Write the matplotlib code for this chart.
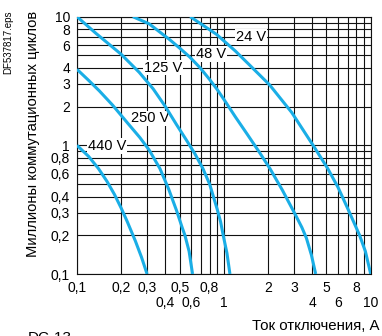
import numpy as np
import matplotlib
matplotlib.use("Agg")
import matplotlib.pyplot as plt

plt.rcParams['font.family'] = ['Liberation Sans', 'DejaVu Sans']

# curves: breaking current (A) vs millions of cycles
i_24 = [0.59, 0.89, 1.2, 1.5, 2.05, 2.9, 4.1, 5.1, 6.0, 7.0, 8.4, 9.2, 10]
n_24 = [10, 7.3, 5.4, 4.2, 2.95, 1.8, 0.98, 0.66, 0.47, 0.32, 0.2, 0.15, 0.1]

i_48 = [0.24, 0.31, 0.43, 0.5, 0.587, 0.69, 0.8, 0.9, 1.0, 1.2, 1.45, 1.75, 2.06,
        2.5, 3.04, 3.4, 3.65, 3.95, 4.22]
n_48 = [10, 8.8, 6.6, 5.7, 4.85, 4.0, 3.25, 2.72, 2.28, 1.66, 1.21, 0.88, 0.66,
        0.45, 0.295, 0.23, 0.19, 0.14, 0.1]

i_125 = [0.1, 0.135, 0.2, 0.265, 0.33, 0.4, 0.476, 0.55, 0.635, 0.72, 0.8, 0.9,
         0.95, 0.99, 1.05, 1.1]
n_125 = [10, 7.4, 5.1, 3.7, 2.75, 2.0, 1.45, 1.12, 0.86, 0.66, 0.5, 0.32,
         0.255, 0.2, 0.145, 0.1]

i_250 = [0.1, 0.12, 0.142, 0.175, 0.22, 0.268, 0.31, 0.367, 0.42, 0.477, 0.52,
         0.543, 0.58, 0.612]
n_250 = [3.9, 3.2, 2.65, 2.05, 1.5, 1.15, 0.92, 0.66, 0.46, 0.31, 0.23,
         0.2, 0.15, 0.1]

i_440 = [0.1, 0.12, 0.14, 0.16, 0.18, 0.2, 0.22, 0.25, 0.275, 0.3]
n_440 = [1.0, 0.82, 0.66, 0.525, 0.415, 0.325, 0.255, 0.18, 0.135, 0.1]

curve_names = ["24 V", "48 V", "125 V", "250 V", "440 V"]
label_x = [1.54, 0.82, 0.387, 0.314, 0.161]
label_y = [6.99, 5.13, 4.02, 1.62, 0.99]

xt_row1 = [0.1, 0.2, 0.3, 0.5, 0.8, 2, 3, 5, 8]
xt_row1_lbl = ["0,1", "0,2", "0,3", "0,5", "0,8", "2", "3", "5", "8"]
xt_row2 = [0.4, 0.6, 1, 4, 6, 10]
xt_row2_lbl = ["0,4", "0,6", "1", "4", "6", "10"]
yt = [10, 8, 6, 4, 3, 2, 1, 0.8, 0.6, 0.4, 0.3, 0.2, 0.1]
yt_lbl = ["10", "8", "6", "4", "3", "2", "1", "0,8", "0,6", "0,4", "0,3", "0,2", "0,1"]

blue = '#1aaee6'

fig = plt.figure(figsize=(3.82, 3.36), dpi=100)
ax = fig.add_axes([77 / 382, 1 - 274 / 336, (370.7 - 77) / 382, (274 - 16.7) / 336])
ax.set_xscale('log')
ax.set_yscale('log')
ax.set_xlim(0.1, 10)
ax.set_ylim(0.1, 10)

# grid: every 1..9 step of each decade
grid_vals = [m * d for d in (0.1, 1) for m in range(1, 10)] + [10]
for g in grid_vals:
    ax.axvline(g, color='#111111', lw=0.8, zorder=1)
    ax.axhline(g, color='#111111', lw=0.8, zorder=1)

for xs, ys in [(i_24, n_24), (i_48, n_48), (i_125, n_125), (i_250, n_250), (i_440, n_440)]:
    ax.plot(xs, ys, color=blue, lw=2.2, solid_capstyle='butt', solid_joinstyle='round',
            zorder=4)

for name, lx, ly in zip(curve_names, label_x, label_y):
    ax.text(lx, ly, name, fontsize=10.5, ha='center', va='center', zorder=3,
            bbox=dict(facecolor='white', edgecolor='none', pad=0.6))

ax.set_xticks(xt_row1)
ax.set_xticklabels(xt_row1_lbl)
ax.set_xticks(xt_row2, minor=True)
ax.set_xticklabels(xt_row2_lbl, minor=True)
ax.set_yticks(yt)
ax.set_yticklabels(yt_lbl)
ax.yaxis.set_minor_locator(matplotlib.ticker.NullLocator())
ax.tick_params(axis='both', which='both', length=0, labelsize=10)
ax.tick_params(axis='x', which='major', pad=5)
ax.tick_params(axis='x', which='minor', pad=16)
ax.tick_params(axis='y', pad=5)
for s in ax.spines.values():
    s.set_linewidth(0.8)
    s.set_color('#111111')

fig.text(33 / 382, 1 - 133.5 / 336, "Миллионы коммутационных циклов", rotation=90,
         ha='center', va='center', fontsize=10.6)
fig.text(8 / 382, 1 - 10 / 336, "DF537817.eps", rotation=90, ha='center', va='top', fontsize=7)
fig.text(380 / 382, 1 - 326 / 336, "Ток отключения, А", ha='right', va='center', fontsize=10.8)
# cut off at the bottom edge, as in the source picture
fig.text(28 / 382, 1 - 331.5 / 336, "DC-13", ha='left', va='top', fontsize=11)

fig.savefig('out.png', dpi=100)
